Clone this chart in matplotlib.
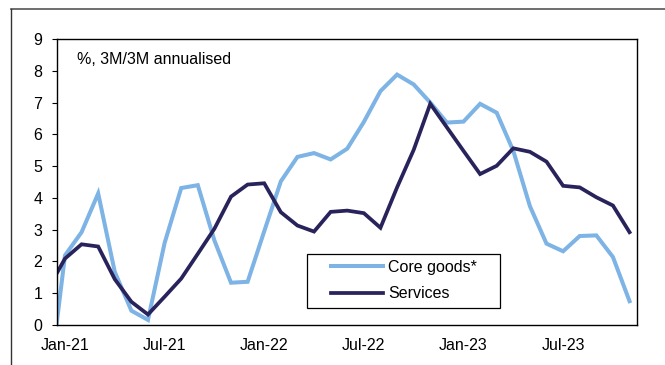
import matplotlib
matplotlib.use("Agg")
import matplotlib.pyplot as plt
from matplotlib.lines import Line2D
from matplotlib.patches import Rectangle
import numpy as np

plt.rcParams['font.family'] = ['Liberation Sans', 'DejaVu Sans']

# Monthly index, Jan-21 = 0 (first value Dec-20 = -1)
months = list(range(-1, 35))
core_goods = [-2.1, 2.19, 2.92, 4.14, 1.67, 0.45, 0.16, 2.58, 4.31, 4.40, 2.66, 1.33, 1.36,
              2.95, 4.52, 5.29, 5.41, 5.21, 5.55, 6.39, 7.36, 7.88, 7.57, 7.00, 6.37,
              6.40, 6.96, 6.68, 5.48, 3.74, 2.56, 2.32, 2.80, 2.82, 2.14, 0.75]
services = [1.15, 2.09, 2.54, 2.47, 1.44, 0.73, 0.33, 0.89, 1.46, 2.24, 3.03, 4.04, 4.42,
            4.46, 3.55, 3.13, 2.94, 3.56, 3.60, 3.52, 3.06, 4.33, 5.51, 6.96, 6.22,
            5.48, 4.75, 5.01, 5.56, 5.45, 5.14, 4.38, 4.33, 4.02, 3.76, 2.92]
tick_pos = [0, 6, 12, 18, 24, 30]
tick_labels = ['Jan-21', 'Jul-21', 'Jan-22', 'Jul-22', 'Jan-23', 'Jul-23']
y_ticks = list(range(0, 10))

fig = plt.figure(figsize=(6.65, 3.65), dpi=100)
W, H = 665, 365
AX_L, AX_R, AX_T, AX_B = 57, 637, 39, 325
ax = fig.add_axes([AX_L / W, (H - AX_B) / H, (AX_R - AX_L) / W, (AX_B - AX_T) / H])

def ax_xy(px, py):
    return ((px - AX_L) / (AX_R - AX_L), (AX_B - py) / (AX_B - AX_T))

ax.plot(months, core_goods, color='#7DB3E5', lw=2.9, label='Core goods*',
        solid_joinstyle='miter')
ax.plot(months, services, color='#29235C', lw=2.7, label='Services',
        solid_joinstyle='miter')

ax.set_xlim(-0.48, 34.45)
ax.set_ylim(0, 9)
ax.set_yticks(y_ticks)
ax.set_xticks(tick_pos)
ax.set_xticklabels(tick_labels)
ax.tick_params(axis='y', direction='out', length=3.5, width=0.8, labelsize=11.5, pad=7)
ax.tick_params(axis='x', length=0, labelsize=11.5, pad=9)
for s in ax.spines.values():
    s.set_linewidth(1.0)
    s.set_color('black')

ax.text(*ax_xy(77, 60), '%, 3M/3M annualised', transform=ax.transAxes,
        fontsize=11.5, va='center', ha='left')

# legend box
x0, y0 = ax_xy(307, 308)
x1, y1 = ax_xy(500, 254)
ax.add_patch(Rectangle((x0, y0), x1 - x0, y1 - y0, transform=ax.transAxes,
                       facecolor='white', edgecolor='black', lw=0.9, zorder=4))
leg = ax.legend(loc='upper left', bbox_to_anchor=ax_xy(331, 260),
                frameon=False, fontsize=11.5,
                handlelength=3.25, handletextpad=0.33, borderpad=0, labelspacing=0.72,
                borderaxespad=0)
leg.set_zorder(5)

# outer frame lines
fig.add_artist(Line2D([11 / W, 1.0], [(H - 9) / H, (H - 9) / H], transform=fig.transFigure,
                      color='#555555', lw=1.2))
fig.add_artist(Line2D([11 / W, 11 / W], [0, (H - 9) / H], transform=fig.transFigure,
                      color='#333333', lw=1.0))

fig.savefig('out.png', dpi=100)
